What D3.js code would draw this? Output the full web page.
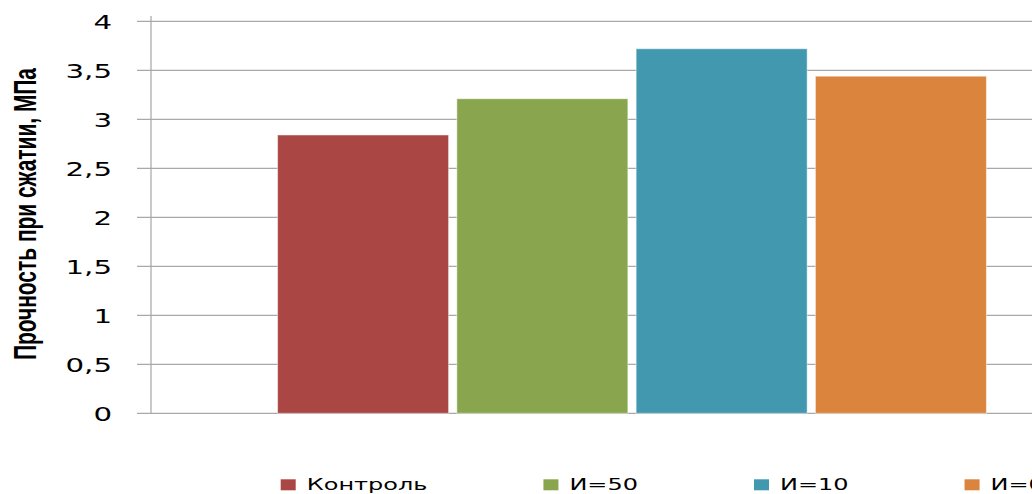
<!DOCTYPE html>
<html>
<head>
<meta charset="utf-8">
<script src="https://cdn.jsdelivr.net/npm/d3@7"></script>
<style>
  html, body { margin: 0; padding: 0; background: #fff; }
  svg { display: block; }
</style>
</head>
<body>
<svg id="chart" width="1032" height="494"></svg>
<script>
// Compressive strength by sample series
const series = ["Контроль", "И=50", "И=10", "И=0"];
const values = [2.84, 3.21, 3.72, 3.44];
const colors = ["#AA4643", "#89A54E", "#4198AF", "#DB843D"];
const yTicks = [0, 0.5, 1, 1.5, 2, 2.5, 3, 3.5, 4];
const yTickLabels = ["0", "0,5", "1", "1,5", "2", "2,5", "3", "3,5", "4"];
const yTitle = "Прочность при сжатии, МПа";

const svg = d3.select("#chart");
const W = 1032, H = 494;
const plot = { left: 151, right: 1113, top: 21.3, bottom: 413.3 };

const y = d3.scaleLinear().domain([0, 4]).range([plot.bottom, plot.top]);
const x = d3.scaleBand().domain(series).range([plot.left, plot.right])
  .paddingInner(0.046).paddingOuter(0.706);

// horizontal gridlines with short tick stubs to the left of the axis
const grid = svg.append("g");
grid.selectAll("line").data(yTicks).join("line")
  .attr("x1", plot.left - 14).attr("x2", W)
  .attr("y1", d => y(d)).attr("y2", d => y(d))
  .attr("stroke", "#a9a9a9")
  .attr("stroke-width", 1.2);

// vertical axis line
svg.append("line")
  .attr("x1", plot.left).attr("x2", plot.left)
  .attr("y1", 16).attr("y2", plot.bottom)
  .attr("stroke", "#a6a6a6").attr("stroke-width", 1.2);

// tick labels
const tickG = svg.append("g");
yTicks.forEach((t, i) => {
  tickG.append("text")
    .attr("transform", `translate(112,${y(t) + 7.6}) scale(1.5,1)`)
    .attr("text-anchor", "end")
    .attr("font-family", "DejaVu Sans, Verdana, sans-serif")
    .attr("font-size", 19.5)
    .attr("fill", "#000")
    .text(yTickLabels[i]);
});

// bars
svg.append("g").selectAll("rect").data(values).join("rect")
  .attr("x", (d, i) => x(series[i]))
  .attr("width", x.bandwidth())
  .attr("y", d => y(d))
  .attr("height", d => y(0) - y(d))
  .attr("fill", (d, i) => colors[i])
  .attr("stroke", "#ffffff").attr("stroke-opacity", 0.5).attr("stroke-width", 1);

// y-axis title
svg.append("text")
  .attr("transform", "translate(36,214) scale(1.4,1) rotate(-90)")
  .attr("text-anchor", "middle")
  .attr("font-family", "Liberation Sans Narrow, Arial Narrow, Liberation Sans, sans-serif")
  .attr("font-size", 22)
  .attr("font-weight", "bold")
  .attr("textLength", 292)
  .attr("lengthAdjust", "spacingAndGlyphs")
  .attr("fill", "#000")
  .text(yTitle);

// legend
const legend = svg.append("g");
let lx = 280.7;
series.forEach((s, i) => {
  const g = legend.append("g");
  g.append("rect")
    .attr("x", lx).attr("y", 479.3)
    .attr("width", 15).attr("height", 11)
    .attr("fill", colors[i]);
  const t = g.append("text")
    .attr("transform", `translate(${lx + 26},490) scale(1.6,1)`)
    .attr("font-family", "DejaVu Sans, Verdana, sans-serif")
    .attr("font-size", 15)
    .attr("fill", "#000")
    .text(s);
  const w = t.node().getComputedTextLength() * 1.6;
  lx += 26 + w + 116;
});
</script>
</body>
</html>
